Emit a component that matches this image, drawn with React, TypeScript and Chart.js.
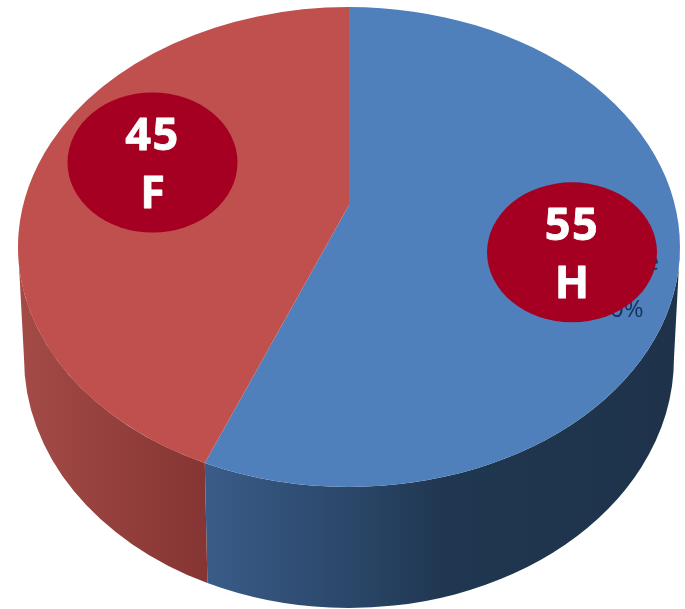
import React, { useEffect, useRef } from "react";
import { Chart, registerables } from "chart.js";

Chart.register(...registerables);

const categories = ["Homme", "Femme"];
const values = [55, 45];
const letters = ["H", "F"];
const hiddenLabel = ["Homme", "55,00%"];

const topColors = ["#4f80bb", "#bf504d"];
const wallStops = [
  [[0, "#3a5c88"], [0.3, "#2b476a"], [0.5, "#203751"], [1, "#1e334a"]],
  [[0, "#a44b47"], [1, "#853533"]],
] as [number, string][][];
const bubbleColor = "#a50021";

// all proportions are relative to the pie's own centre and radius
const TOP = { dx: 0.0213, dy: -0.1888, rx: 1.087, ry: 0.788 };
const BOTTOM = { dx: 0.0213, dy: 0.1757, rx: 1.0673, ry: 0.821 };
const APEX_DY = -0.3268;
const ANGLE_STRETCH = 1.72;
const BUBBLES = [
  { dx: 0.7537, dy: -0.1714 },
  { dx: -0.6240, dy: -0.4664 },
];
const BUBBLE_RX = 0.2791;
const BUBBLE_RY = 0.2299;

const pie3d = {
  id: "pie3d",
  beforeDatasetDraw(chart: any) {
    const ctx: any = chart.ctx;
    const arcs = chart.getDatasetMeta(0).data;
    const { x, y, outerRadius: R } = arcs[0];
    const cx = x + TOP.dx * R;
    const cy = y + TOP.dy * R;
    const rx = TOP.rx * R;
    const ry = TOP.ry * R;
    const bcx = x + BOTTOM.dx * R;
    const bcy = y + BOTTOM.dy * R;
    const brx = BOTTOM.rx * R;
    const bry = BOTTOM.ry * R;
    const ax = cx;
    const ay = y + APEX_DY * R;

    // angle on the pie -> parameter on the tilted top ellipse
    const project = (angle: number) => {
      const th = angle + Math.PI / 2;
      const ux = Math.sin(th) * ANGLE_STRETCH;
      const uy = -Math.cos(th);
      const a = (ux * ux) / (rx * rx) + (uy * uy) / (ry * ry);
      const b = (2 * uy * (ay - cy)) / (ry * ry);
      const c = ((ay - cy) * (ay - cy)) / (ry * ry) - 1;
      const s = (-b + Math.sqrt(b * b - 4 * a * c)) / (2 * a);
      return Math.atan2((ay + uy * s - cy) / ry, (ax + ux * s - cx) / rx);
    };

    const spans = arcs.map((arc: any) => {
      const t0 = project(arc.startAngle);
      let t1 = project(arc.endAngle);
      while (t1 <= t0) t1 += Math.PI * 2;
      return [t0, t1];
    });

    ctx.save();
    // side wall
    arcs.forEach((_: any, i: number) => {
      const lo = Math.max(spans[i][0], 0);
      const hi = Math.min(spans[i][1], Math.PI);
      if (hi <= lo) return;
      const xa = cx + rx * Math.cos(lo);
      const xb = cx + rx * Math.cos(hi);
      const grad = ctx.createLinearGradient(Math.min(xa, xb), 0, Math.max(xa, xb), 0);
      wallStops[i].forEach(([p, col]) => grad.addColorStop(p, col));
      ctx.beginPath();
      ctx.ellipse(cx, cy, rx, ry, 0, lo, hi);
      ctx.lineTo(bcx + brx * Math.cos(hi), bcy + bry * Math.sin(hi));
      ctx.ellipse(bcx, bcy, brx, bry, 0, hi, lo, true);
      ctx.closePath();
      ctx.fillStyle = grad;
      ctx.fill();
    });
    // top face
    arcs.forEach((_: any, i: number) => {
      ctx.beginPath();
      ctx.moveTo(ax, ay);
      ctx.ellipse(cx, cy, rx, ry, 0, spans[i][0], spans[i][1]);
      ctx.closePath();
      ctx.fillStyle = topColors[i];
      ctx.fill();
    });

    // the original data label, mostly covered by the bubble
    ctx.fillStyle = "#12305a";
    ctx.textAlign = "right";
    ctx.textBaseline = "alphabetic";
    ctx.font = '24px "Open Sans"';
    ctx.fillText(hiddenLabel[0], x + 1.0394 * R, y - 0.1133 * R);
    ctx.fillText(hiddenLabel[1], x + 0.9885 * R, y + 0.041 * R);

    // bubbles
    values.forEach((v, i) => {
      const bx = x + BUBBLES[i].dx * R;
      const by = y + BUBBLES[i].dy * R;
      ctx.beginPath();
      ctx.ellipse(bx, by, BUBBLE_RX * R, BUBBLE_RY * R, 0, 0, Math.PI * 2);
      ctx.fillStyle = bubbleColor;
      ctx.fill();
      ctx.fillStyle = "#ffffff";
      ctx.strokeStyle = "#ffffff";
      ctx.lineWidth = 0.8;
      ctx.lineJoin = "round";
      ctx.textAlign = "center";
      ctx.font = 'bold 45px "Open Sans"';
      ctx.letterSpacing = "1.5px";
      const l1 = by - 0.0403 * R;
      const l2 = by + 0.1502 * R;
      ctx.fillText(String(v), bx, l1);
      ctx.strokeText(String(v), bx, l1);
      ctx.letterSpacing = "0px";
      ctx.fillText(letters[i], bx, l2);
      ctx.strokeText(letters[i], bx, l2);
    });
    ctx.restore();
    return false;
  },
};

export default function App() {
  const ref = useRef<HTMLCanvasElement>(null);
  useEffect(() => {
    const chart = new Chart(ref.current!, {
      type: "pie",
      data: {
        labels: categories,
        datasets: [{ data: values, backgroundColor: topColors, borderWidth: 0, hoverOffset: 0 }],
      },
      options: {
        responsive: false,
        animation: false,
        layout: { padding: 0 },
        plugins: { legend: { display: false }, tooltip: { enabled: false } },
      },
      plugins: [pie3d],
    } as any);
    return () => chart.destroy();
  }, []);
  return (
    <div style={{ position: "fixed", left: 0, top: 0, width: 685, height: 609, background: "#fff" }}>
      <canvas ref={ref} width={685} height={609} style={{ display: "block" }} />
    </div>
  );
}
